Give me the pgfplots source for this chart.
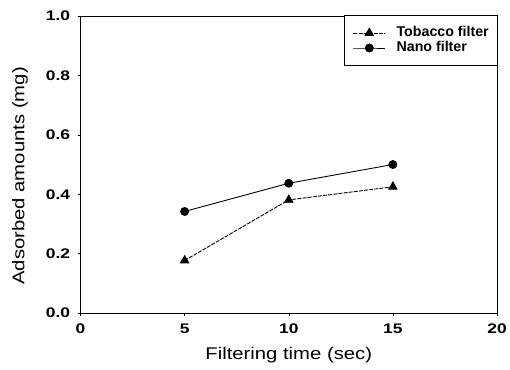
\documentclass[border=0pt]{standalone}
\usepackage{fontspec}
\setmainfont{Liberation Sans}
\newfontfamily\lblfont[FakeStretch=1.2]{Liberation Sans}
\newfontfamily\tickfont[FakeStretch=1.25]{Liberation Sans}
\usepackage{pgfplots}
\pgfplotsset{compat=1.18}
\begin{document}
\begin{tikzpicture}
\begin{axis}[
  scale only axis,
  width=419pt, height=299pt,
  xmin=0, xmax=20, ymin=0, ymax=1,
  xtick={0,5,10,15,20},
  ytick={0,0.2,0.4,0.6,0.8,1.0},
  yticklabel style={/pgf/number format/fixed,/pgf/number format/fixed zerofill,/pgf/number format/precision=1, xshift=-4pt},
  xticklabel style={yshift=-4pt},
  /pgf/number format/assume math mode=true,
  tick label style={font=\tickfont\fontsize{14}{16}\selectfont\bfseries},
  tick align=outside,
  tick style={black, thin},
  major tick length=3pt,
  xtick pos=bottom, ytick pos=left,
  axis line style={black, line width=0.8pt},
  xlabel={Filtering time (sec)},
  ylabel={Adsorbed amounts (mg)},
  label style={font=\lblfont\fontsize{17}{19}\selectfont, inner sep=0pt},
  xlabel style={at={(axis description cs:0.5,-0.114)}, anchor=north},
  ylabel style={at={(axis description cs:-0.1647,0.4615)}, anchor=north},
  legend style={at={(axis description cs:1,1)}, anchor=north east, xshift=1pt, yshift=0.5pt,
    draw=black, line width=0.6pt,
    font=\fontsize{14.3}{15}\selectfont\bfseries,
    nodes={inner sep=0pt, text height=10pt, text depth=3pt}, row sep=2pt,
    column sep=11pt, inner xsep=9pt, inner ysep=11pt},
  legend cell align=left,
  legend image code/.code={\draw[mark repeat=2,mark phase=2] plot coordinates {(0pt,0pt) (16pt,0pt) (32pt,0pt)};},
]
\addplot[black, line width=0.9pt, dash pattern=on 4pt off 1.2pt, mark=triangle*, mark size=4.8pt, mark options={solid}]
  coordinates {(5,0.177) (10,0.381) (15,0.425)};
\addlegendentry{Tobacco filter}
\addplot[black, line width=0.9pt, mark=*, mark size=4pt]
  coordinates {(5,0.342) (10,0.437) (15,0.500)};
\addlegendentry{Nano filter}
\end{axis}
\path[use as bounding box] (-81pt,-57pt) rectangle (429pt,315pt);
\end{tikzpicture}
\end{document}
